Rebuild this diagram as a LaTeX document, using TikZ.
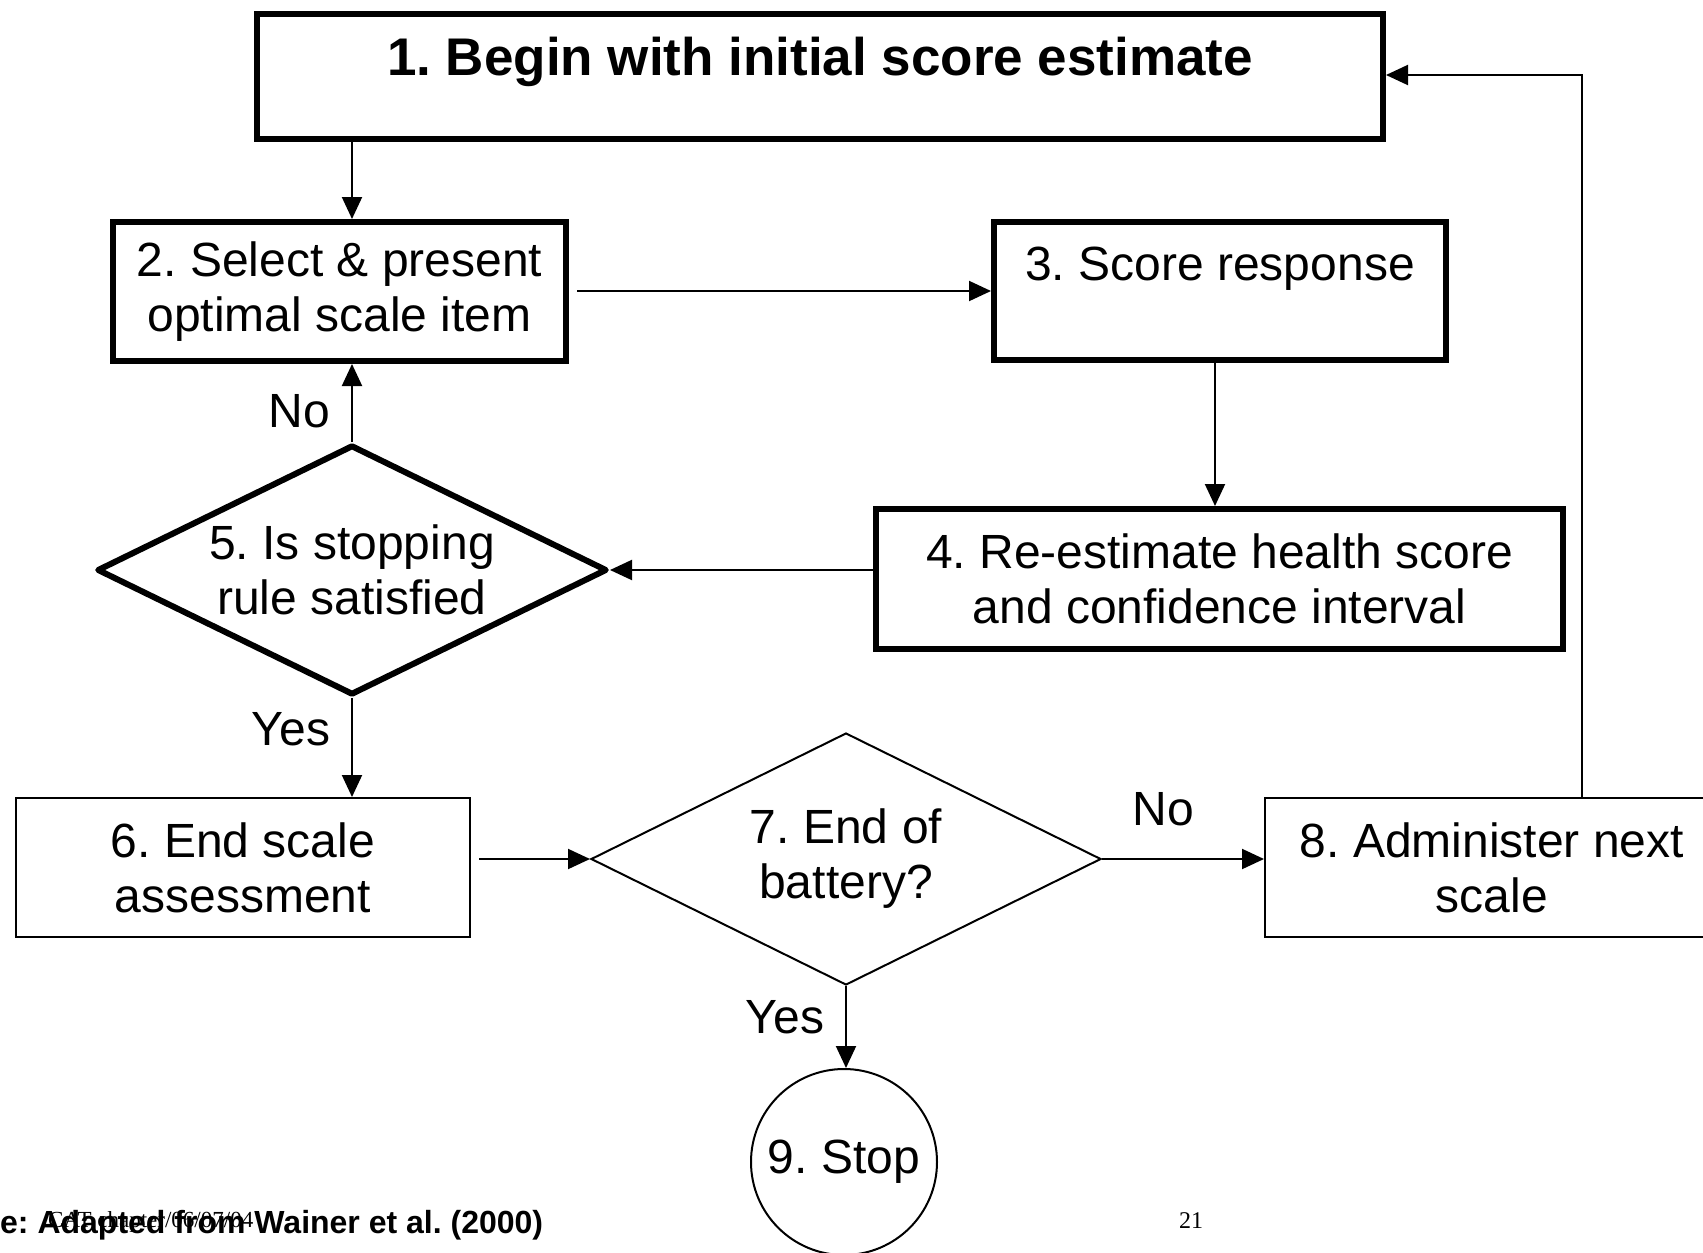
\documentclass[tikz,border=0pt]{standalone}
\usepackage{fontspec}
\setmainfont{Liberation Sans}
\newfontfamily\serifnote{Liberation Serif}
\usetikzlibrary{
    arrows.meta,
    calc,
    positioning,
    shapes.geometric,
}
\tikzset{>={Triangle[length=22pt,width=20pt]}}
\frenchspacing
\newcommand{\flowfont}{\fontsize{48}{55}\selectfont}
\newcommand{\titlefont}{\fontsize{53}{60}\selectfont\bfseries}
\tikzset{
    boldbox/.style={draw,rectangle,line width=6pt,inner sep=0pt,align=center,font=\flowfont},
    plainbox/.style={draw,rectangle,line width=2pt,inner sep=0pt,align=center,font=\flowfont},
    bolddecide/.style={draw,diamond,aspect=2,line width=6pt,line join=round,inner sep=0pt,align=center,font=\flowfont},
    plaindecide/.style={draw,diamond,aspect=2,line width=2pt,inner sep=0pt,align=center,font=\flowfont},
    flow/.style={->,line width=2pt},
    lbl/.style={inner sep=0pt,font=\flowfont},
}

\begin{document}
\begin{tikzpicture}[x=1pt,y=-1pt]
    \useasboundingbox (0,0) rectangle (1703,1253);
    % boxes
    \node[boldbox,minimum width=1126pt,minimum height=125pt,font=\titlefont,text height=39pt,text depth=42pt] (begin) at (820,76.5) {1. Begin with initial score estimate};
    \node[boldbox,minimum width=453pt,minimum height=139pt] (select) at (339.5,291.5) {2. Select \& present\\optimal scale item};
    \node[boldbox,minimum width=452pt,minimum height=138pt,text height=35pt,text depth=57pt] (score) at (1220,291) {3. Score response};
    \node[boldbox,minimum width=687pt,minimum height=140pt] (reest) at (1219.5,579) {4. Re-estimate health score\\and confidence interval};
    \node[bolddecide,minimum width=510pt,minimum height=250pt] (stoprule) at (352,570) {5. Is stopping\\rule satisfied};
    \node[plainbox,minimum width=454pt,minimum height=139pt] (endscale) at (243,867.5) {6. End scale\\assessment};
    \node[plaindecide,minimum width=510pt,minimum height=252pt] (battery) at (846,859) {7. End of\\battery?};
    \node[plainbox,minimum width=454pt,minimum height=139pt] (nextscale) at (1492,867.5) {8. Administer next\\scale};
    \node[draw,circle,line width=2pt,inner sep=0pt,minimum size=186pt,font=\flowfont] (stop) at (844,1162) {9. Stop};
    \coordinate (bend) at (1582,75);
    % connectors
    \draw[flow] (begin.south -| stoprule) -- (select.north -| stoprule);
    \draw[flow,shorten <=8pt] (select.east |- score.west) -- (score.west);
    \draw[flow] ([xshift=-5pt]score.south) -- ([xshift=-5pt]score.south |- reest.north);
    \draw[flow] (reest.west |- stoprule.east) -- (stoprule.east);
    \draw[flow] (stoprule.north) -- node[lbl,left=21pt,pos=0.4] (no5) {No} (stoprule.north |- select.south);
    \draw[flow] (stoprule.south) -- node[lbl,left=21pt,pos=0.32] (yes5) {Yes} (stoprule.south |- endscale.north);
    \draw[flow,shorten <=8pt] (endscale.east |- battery.west) -- (battery.west);
    \draw[flow] (battery.east) -- node[lbl,above=32pt,pos=0.38] (no7) {No} (battery.east -| nextscale.west);
    \draw[flow] (battery.south) -- node[lbl,left=21pt,pos=0.38] (yes7) {Yes} (battery.south |- stop.north);
    \draw[flow] (nextscale.north -| bend) -- (bend) -- (bend -| begin.east);
    % footer
    \node[anchor=base west,inner sep=0pt,font=\fontsize{32}{36}\selectfont\bfseries] (source) at (0,1233) {e: Adapted from Wainer et al. (2000)};
    \node[anchor=base west,inner sep=0pt,font=\serifnote\fontsize{23}{26}\selectfont] (date) at (48,1227) {CAT chapter/06/07/04};
    \node[anchor=base west,inner sep=0pt,font=\serifnote\fontsize{24}{26}\selectfont] (page) at (1179,1228) {21};
\end{tikzpicture}
\end{document}
